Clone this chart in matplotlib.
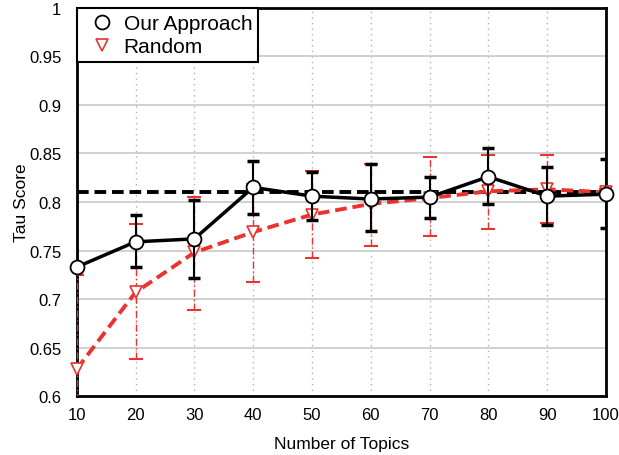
import numpy as np
import matplotlib.pyplot as plt

plt.rcParams['font.family'] = ['Liberation Sans', 'DejaVu Sans']

topics = [10, 20, 30, 40, 50, 60, 70, 80, 90, 100]

ours = [0.733, 0.759, 0.762, 0.815, 0.806, 0.803, 0.805, 0.826, 0.806, 0.808]
ours_hi = [0.736, 0.787, 0.802, 0.842, 0.831, 0.839, 0.826, 0.856, 0.836, 0.844]
ours_lo = [0.730, 0.733, 0.722, 0.788, 0.781, 0.770, 0.783, 0.798, 0.776, 0.773]

rand = [0.628, 0.707, 0.748, 0.769, 0.787, 0.798, 0.804, 0.811, 0.813, 0.810]
rand_hi = [0.725, 0.777, 0.805, 0.819, 0.832, 0.839, 0.846, 0.848, 0.848, 0.813]
rand_lo = [0.531, 0.638, 0.689, 0.718, 0.742, 0.755, 0.765, 0.772, 0.778, 0.807]

baseline = 0.81

ours = np.array(ours)
rand = np.array(rand)

fig = plt.figure(figsize=(6.19, 4.56), dpi=100)
ax = fig.add_axes([0.1239, 0.1287, 0.8551, 0.8524])

red = '#e8332f'

# random: error bars (dash-dot) then dashed line
eb = ax.errorbar(topics, rand, yerr=[rand - np.array(rand_lo), np.array(rand_hi) - rand],
                 fmt='none', ecolor=red, elinewidth=1.0, capsize=5, capthick=1.5, zorder=3)
eb[2][0].set_linestyle((0, (5, 2, 1, 2)))
ax.plot(topics, rand, linestyle=(0, (3, 1.5)), color=red, linewidth=2.8,
        marker='v', markersize=9, markerfacecolor='white', markeredgecolor=red,
        markeredgewidth=1.2, label='Random', zorder=4, clip_on=False)

# our approach
ax.errorbar(topics, ours, yerr=[ours - np.array(ours_lo), np.array(ours_hi) - ours],
            fmt='none', ecolor='black', elinewidth=1.5, capsize=4, capthick=2.5, zorder=5)
ax.plot(topics, ours, '-', color='black', linewidth=2.5, marker='o', markersize=10,
        markerfacecolor='white', markeredgecolor='black', markeredgewidth=1.3,
        label='Our Approach', zorder=6, clip_on=False)

ax.axhline(baseline, color='black', linestyle=(0, (3, 1.5)), linewidth=2.8, zorder=2)

ax.set_xlim(10, 100)
ax.set_ylim(0.6, 1.0)
ax.set_xticks(topics)
ax.set_yticks([0.6, 0.65, 0.7, 0.75, 0.8, 0.85, 0.9, 0.95, 1.0])
ax.set_yticklabels(['0.6', '0.65', '0.7', '0.75', '0.8', '0.85', '0.9', '0.95', '1'])
ax.tick_params(labelsize=12, length=0)
ax.tick_params(axis='y', pad=11)
ax.tick_params(axis='x', pad=8)

ax.yaxis.grid(True, color='#c8c8c8', linewidth=1.2, linestyle='-')
ax.xaxis.grid(True, color='#b0b0b0', linewidth=1.0, linestyle=(0, (1, 3)))
ax.set_axisbelow(True)
for s in ax.spines.values():
    s.set_linewidth(2)

ax.set_xlabel('Number of Topics', fontsize=12.5, labelpad=10)
ax.set_ylabel('Tau Score', fontsize=12.5)
ax.yaxis.set_label_coords(-0.09, 0.5)

handles, labels = ax.get_legend_handles_labels()
leg = ax.legend(handles[::-1], labels[::-1], loc='upper left', fontsize=15, fancybox=False,
                framealpha=1, edgecolor='black', borderaxespad=0, handlelength=1.8,
                handletextpad=0.15, borderpad=0.3, labelspacing=0.2)
leg.get_frame().set_linewidth(1.5)
for h in leg.legend_handles:
    h.set_linestyle('none')

fig.savefig('out.png', dpi=100)
